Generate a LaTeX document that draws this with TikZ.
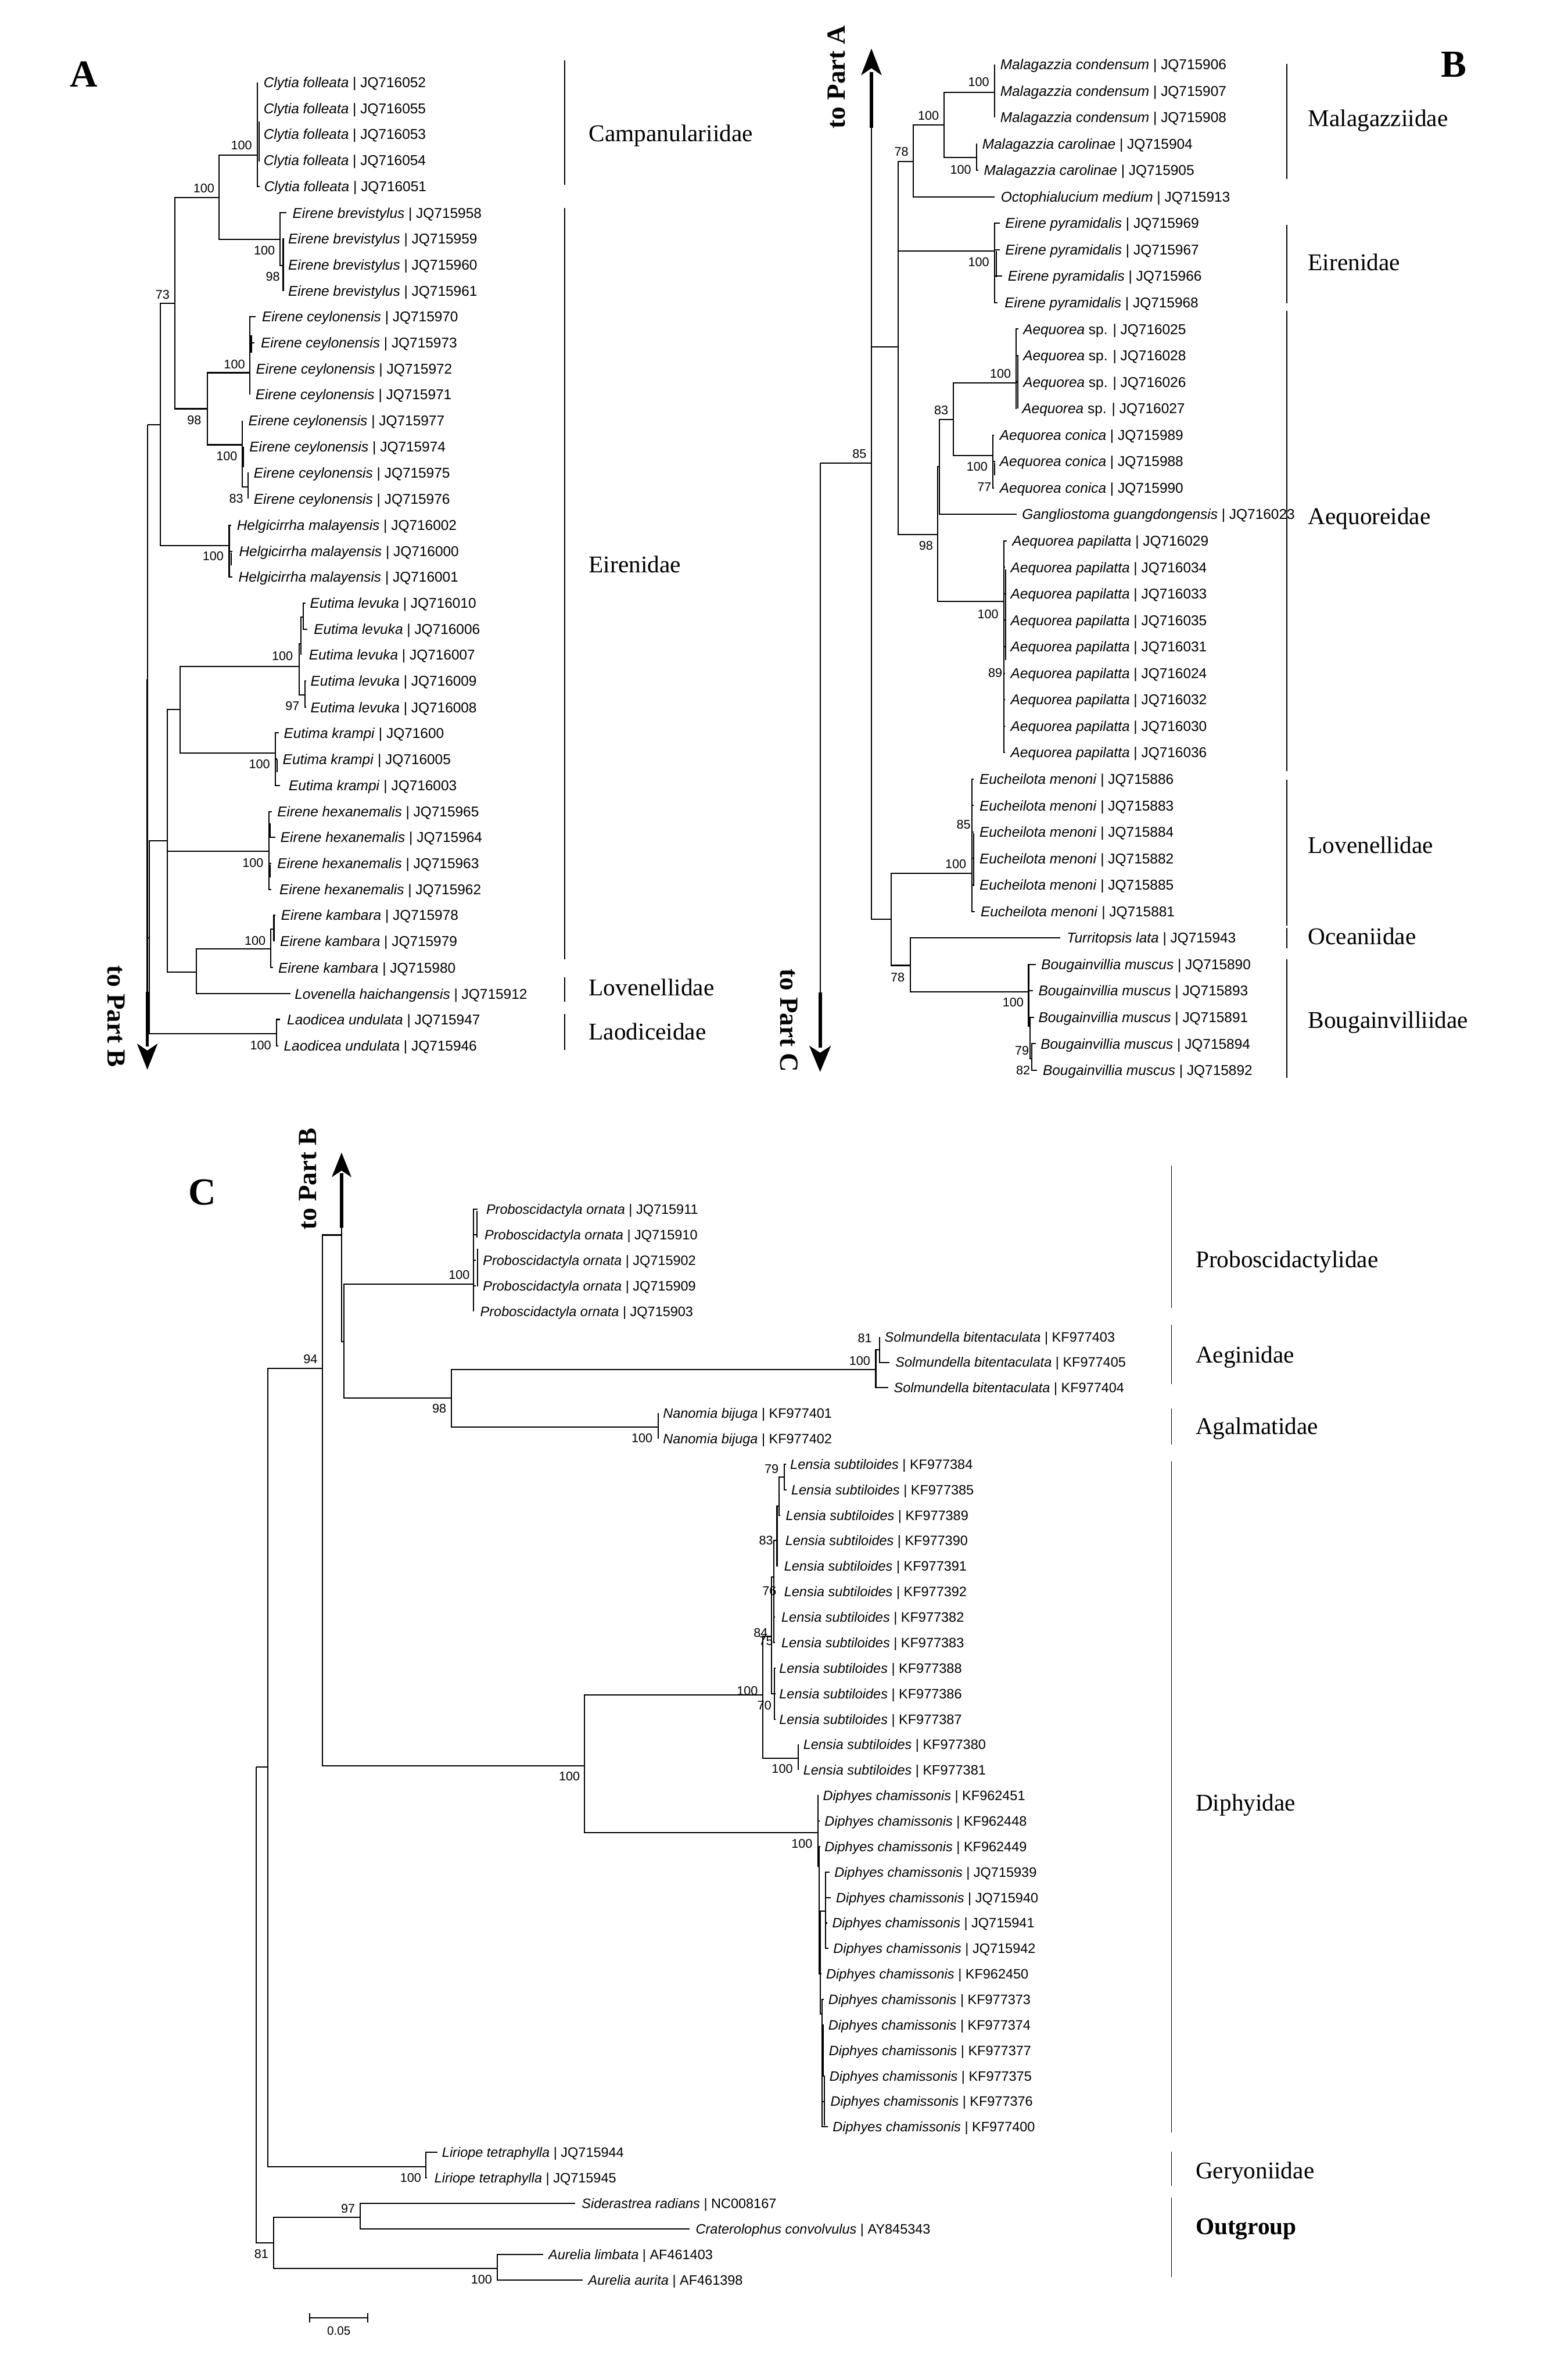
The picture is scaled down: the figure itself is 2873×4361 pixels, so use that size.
\documentclass[tikz,border=0pt]{standalone}
\usepackage{fontspec}
\setmainfont{Liberation Serif}
\newfontfamily\sansf{Liberation Sans}
\tikzset{
  br/.style={line width=2.2pt},
  lblA/.style={font=\sansf\fontsize{26}{26}\selectfont, inner sep=0pt, anchor=west, text height=18.6pt, text depth=0pt},
  lblC/.style={font=\sansf\fontsize{25}{25}\selectfont, inner sep=0pt, anchor=west, text height=17.9pt, text depth=0pt},
  bs/.style={font=\sansf\fontsize{23}{23}\selectfont, inner sep=0pt, anchor=east, text height=16.5pt, text depth=0pt},
  fam/.style={font=\fontsize{44}{44}\selectfont, inner sep=0pt, anchor=west, text height=29pt, text depth=0pt},
  famline/.style={line width=2pt},
  partlbl/.style={font=\bfseries\fontsize{48}{48}\selectfont, inner sep=0pt},
  panellbl/.style={font=\bfseries\fontsize{70}{70}\selectfont, inner sep=0pt},
  shaft/.style={line width=6pt},
  midshaft/.style={line width=3pt},
}
\newcommand\lf[8]{%
  \coordinate (#2t) at (#4,#5);
  \draw[br] (#3) |- (#2t);
  \node[#1] (#2) at (#6,#5) {\textit{#7} | #8};
}
\newcommand\bsv[4]{\node[bs] (#1) at (#2,#3) {#4};}
\newcommand\famlab[7]{%
  \coordinate (#1a) at (#2,#3);
  \coordinate (#1b) at (#2,#4);
  \draw[famline] (#1a) -- (#1b);
  \node[fam] (#1) at (#5,#6) {#7};
}
\newcommand\inner[4]{% name, x, y1, y2 : short nested-branch segment
  \coordinate (#1a) at (#2,#3);
  \coordinate (#1b) at (#2,#4);
  \draw[br] (#1a) -- (#1b);
}
\begin{document}
\begin{tikzpicture}[x=1pt,y=-1pt]
\useasboundingbox[fill=white] (0,0) rectangle (2873,4361);

% ================= PANEL A =================
\node[panellbl] (pA) at (154,136) {A};
\coordinate (aM) at (270,778);
\coordinate (aN294) at (294,778);
\coordinate (aN320) at (320,556);
\coordinate (aN401) at (401,362);
\coordinate (aCly) at (472,284);
\coordinate (aBrev) at (513,439);
\coordinate (aBrev2) at (519,487);
\coordinate (aCey) at (380,749);
\coordinate (aCey1) at (458,683);
\coordinate (aCey2) at (444,815);
\coordinate (aCey3) at (455,892);
\coordinate (aHel) at (420,1000);
\coordinate (aMl) at (270,1718);
\coordinate (aLow) at (274,1718);
\coordinate (aEKH) at (307,1541);
\coordinate (aEut) at (330,1300);
\coordinate (aLev) at (548,1221);
\coordinate (aLevA) at (552,1180);
\coordinate (aLevC) at (556,1131);
\coordinate (aLevB) at (559,1273);
\coordinate (aKra) at (505,1380);
\coordinate (aHex) at (493,1560);
\coordinate (aKL) at (360,1781);
\coordinate (aKam) at (496,1739);
\coordinate (aKam2) at (502,1702);
\coordinate (aLao) at (507,1894);

\draw[br] (aM) |- (aN294);
\draw[br] (aN294) |- (aN320);
\draw[br] (aN294) |- (aHel);
\draw[br] (aN320) |- (aN401);
\draw[br] (aN320) |- (aCey);
\draw[br] (aN401) |- (aCly);
\draw[br] (aN401) |- (aBrev);
\draw[br] (aBrev) |- (aBrev2);
\draw[br] (aCey) |- (aCey1);
\draw[br] (aCey) |- (aCey2);
\draw[br] (aCey2) |- (aCey3);
\draw[br] (aMl) -- (aLow);
\draw[br] (aLow) |- (aEKH);
\draw[br] (aLow) |- (aLao);
\draw[br] (aEKH) |- (aEut);
\draw[br] (aEKH) |- (aHex);
\draw[br] (aEKH) |- (aKL);
\draw[br] (aEut) |- (aLev);
\draw[br] (aEut) |- (aKra);
\draw[br] (aLev) |- (aLevA);
\draw[br] (aLev) |- (aLevB);
\draw[br] (aLevA) |- (aLevC);
\draw[br] (aKL) |- (aKam);
\draw[br] (aKam) |- (aKam2);
\inner{iA1}{474.5}{223}{296}
\inner{iA2}{460.5}{614}{646}
\inner{iA3}{446.5}{819}{856}
\inner{iA4}{424}{1012}{1036}
\inner{iA5}{507.5}{1392}{1415}
\inner{iA6}{495.5}{1509}{1535}
\inner{iA7}{495.5}{1584}{1608}

% arrow to part B
\coordinate (aA1) at (270,1245);
\coordinate (aA2) at (270,1817);
\coordinate (aA3) at (270,1918);
\draw[br] (aM) -- (aA1);
\draw[midshaft] (aA1) -- (aA2);
\draw[shaft] (aA2) -- (aA3);
\fill (270,1960) -- (251,1912) -- (270,1925) -- (289,1912) -- cycle;
\node[partlbl, rotate=-90] (aPart) at (213,1862) {to Part B};

\lf{lblA}{a0}{aCly}{472}{151}{483}{Clytia folleata}{JQ716052}
\lf{lblA}{a1}{aCly}{472}{199}{483}{Clytia folleata}{JQ716055}
\lf{lblA}{a2}{aCly}{472}{246}{483}{Clytia folleata}{JQ716053}
\lf{lblA}{a3}{aCly}{472}{294}{483}{Clytia folleata}{JQ716054}
\lf{lblA}{a4}{aCly}{476}{342}{484}{Clytia folleata}{JQ716051}
\lf{lblA}{a5}{aBrev}{525}{390}{536}{Eirene brevistylus}{JQ715958}
\lf{lblA}{a6}{aBrev2}{519}{437}{528}{Eirene brevistylus}{JQ715959}
\lf{lblA}{a7}{aBrev2}{519}{485}{528}{Eirene brevistylus}{JQ715960}
\lf{lblA}{a8}{aBrev2}{519}{533}{528}{Eirene brevistylus}{JQ715961}
\lf{lblA}{a9}{aCey1}{468}{580}{480}{Eirene ceylonensis}{JQ715970}
\lf{lblA}{a10}{aCey1}{466}{628}{478}{Eirene ceylonensis}{JQ715973}
\lf{lblA}{a11}{aCey1}{458}{676}{469}{Eirene ceylonensis}{JQ715972}
\lf{lblA}{a12}{aCey1}{458}{723}{468}{Eirene ceylonensis}{JQ715971}
\lf{lblA}{a13}{aCey2}{444}{771}{455}{Eirene ceylonensis}{JQ715977}
\lf{lblA}{a14}{aCey2}{444}{819}{457}{Eirene ceylonensis}{JQ715974}
\lf{lblA}{a15}{aCey3}{455}{866}{465}{Eirene ceylonensis}{JQ715975}
\lf{lblA}{a16}{aCey3}{455}{914}{465}{Eirene ceylonensis}{JQ715976}
\lf{lblA}{a17}{aHel}{424}{962}{434}{Helgicirrha malayensis}{JQ716002}
\lf{lblA}{a18}{aHel}{426}{1010}{438}{Helgicirrha malayensis}{JQ716000}
\lf{lblA}{a19}{aHel}{426}{1057}{437}{Helgicirrha malayensis}{JQ716001}
\lf{lblA}{a20}{aLevC}{560}{1105}{568}{Eutima levuka}{JQ716010}
\lf{lblA}{a21}{aLevC}{563}{1153}{575}{Eutima levuka}{JQ716006}
\lf{lblA}{a22}{aLevA}{552}{1200}{566}{Eutima levuka}{JQ716007}
\lf{lblA}{a23}{aLevB}{561}{1248}{569}{Eutima levuka}{JQ716009}
\lf{lblA}{a24}{aLevB}{561}{1296}{569}{Eutima levuka}{JQ716008}
\lf{lblA}{a25}{aKra}{511}{1343}{520}{Eutima krampi}{JQ71600}
\lf{lblA}{a26}{aKra}{508}{1391}{518}{Eutima krampi}{JQ716005}
\lf{lblA}{a27}{aKra}{513}{1439}{529}{Eutima krampi}{JQ716003}
\lf{lblA}{a28}{aHex}{498}{1487}{508}{Eirene hexanemalis}{JQ715965}
\lf{lblA}{a29}{aHex}{505}{1534}{514}{Eirene hexanemalis}{JQ715964}
\lf{lblA}{a30}{aHex}{497}{1582}{508}{Eirene hexanemalis}{JQ715963}
\lf{lblA}{a31}{aHex}{497}{1630}{512}{Eirene hexanemalis}{JQ715962}
\lf{lblA}{a32}{aKam2}{505}{1677}{515}{Eirene kambara}{JQ715978}
\lf{lblA}{a33}{aKam2}{502}{1725}{513}{Eirene kambara}{JQ715979}
\lf{lblA}{a34}{aKam}{500}{1773}{510}{Eirene kambara}{JQ715980}
\lf{lblA}{a35}{aKL}{532}{1821}{540}{Lovenella haichangensis}{JQ715912}
\lf{lblA}{a36}{aLao}{513}{1868}{526}{Laodicea undulata}{JQ715947}
\lf{lblA}{a37}{aLao}{510}{1916}{520}{Laodicea undulata}{JQ715946}

\bsv{ba1}{462}{266}{100}
\bsv{ba2}{393}{345}{100}
\bsv{ba3}{504}{459}{100}
\bsv{ba4}{513}{506}{98}
\bsv{ba5}{311}{539}{73}
\bsv{ba6}{449}{667}{100}
\bsv{ba7}{369}{769}{98}
\bsv{ba8}{435}{836}{100}
\bsv{ba9}{446}{913}{83}
\bsv{ba10}{410}{1019}{100}
\bsv{ba11}{537}{1202}{100}
\bsv{ba12}{549}{1293}{97}
\bsv{ba13}{495}{1400}{100}
\bsv{ba14}{483}{1581}{100}
\bsv{ba15}{487}{1723}{100}
\bsv{ba16}{497}{1915}{100}

\famlab{fA1}{1035}{111}{339}{1079}{245}{Campanulariidae}
\famlab{fA2}{1035}{381}{1758}{1079}{1035}{Eirenidae}
\famlab{fA3}{1035}{1791}{1835}{1079}{1810}{Lovenellidae}
\famlab{fA4}{1035}{1858}{1924}{1079}{1891}{Laodiceidae}

% ================= PANEL B =================
\node[panellbl] (pB) at (2664,118) {B};
\coordinate (b85) at (1503,849);
\coordinate (bX) at (1597,849);
\coordinate (b78a) at (1646,636);
\coordinate (b78) at (1674,296);
\coordinate (b100a) at (1730,229);
\coordinate (bCon) at (1823,169);
\coordinate (bCar) at (1790,289);
\coordinate (bPyr) at (1823,460);
\coordinate (b98) at (1718,980);
\coordinate (bI) at (1722,855);
\coordinate (b83) at (1747,769);
\coordinate (bSp) at (1862,702);
\coordinate (bCnc) at (1820,835);
\coordinate (bPap) at (1840,1102);
\coordinate (bEB) at (1633,1684);
\coordinate (bEuc) at (1781,1600);
\coordinate (b78b) at (1668,1769);
\coordinate (bBou) at (1885,1817);
\coordinate (bBou2) at (1888,1880);
\coordinate (bBou3) at (1891,1940);

\draw[br] (b85) -- (bX);
\draw[br] (bX) |- (b78a);
\draw[br] (bX) |- (bEB);
\draw[br] (b78a) |- (b78);
\draw[br] (b78a) |- (bPyr);
\draw[br] (b78a) |- (b98);
\draw[br] (b78) |- (b100a);
\draw[br] (b100a) |- (bCon);
\draw[br] (b100a) |- (bCar);
\draw[br] (b98) |- (bI);
\draw[br] (b98) |- (bPap);
\draw[br] (bI) |- (b83);
\draw[br] (b83) |- (bSp);
\draw[br] (b83) |- (bCnc);
\draw[br] (bEB) |- (bEuc);
\draw[br] (bEB) |- (b78b);
\draw[br] (b78b) |- (bBou);
\draw[br] (bBou) |- (bBou2);
\draw[br] (bBou2) |- (bBou3);
\inner{iB1}{1825.5}{460}{508}
\inner{iB2}{1865}{653}{749}
\inner{iB3}{1822.5}{847}{871}
\inner{iB4}{1843}{1043}{1210}
\inner{iB5}{1784}{1527}{1624}

% arrow to part A
\coordinate (bU0) at (1597,636);
\coordinate (bU1) at (1597,234);
\coordinate (bU2) at (1597,132);
\draw[midshaft] (bU0) -- (bU1);
\draw[shaft] (bU1) -- (bU2);
\fill (1597,89) -- (1578,138) -- (1597,125) -- (1616,138) -- cycle;
\node[partlbl, rotate=90] (bPartA) at (1533,141) {to Part A};
% arrow to part C
\coordinate (bD1) at (1503,1819);
\coordinate (bD2) at (1503,1920);
\draw[br] (b85) -- (bD1);
\draw[shaft] (bD1) -- (bD2);
\fill (1503,1964) -- (1483,1916) -- (1503,1929) -- (1523,1916) -- cycle;
\node[partlbl, rotate=-90] (bPartC) at (1446,1870) {to Part C};

\lf{lblA}{b0}{bCon}{1823}{118}{1833}{Malagazzia condensum}{JQ715906}
\lf{lblA}{b1}{bCon}{1823}{166.5}{1833}{Malagazzia condensum}{JQ715907}
\lf{lblA}{b2}{bCon}{1823}{215}{1833}{Malagazzia condensum}{JQ715908}
\lf{lblA}{b3}{bCar}{1790}{263.5}{1800}{Malagazzia carolinae}{JQ715904}
\lf{lblA}{b4}{bCar}{1793}{312}{1803}{Malagazzia carolinae}{JQ715905}
\lf{lblA}{b5}{b78}{1823}{360.5}{1834}{Octophialucium medium}{JQ715913}
\lf{lblA}{b6}{bPyr}{1832}{409}{1842}{Eirene pyramidalis}{JQ715969}
\lf{lblA}{b7}{bPyr}{1832}{457.5}{1842}{Eirene pyramidalis}{JQ715967}
\lf{lblA}{b8}{bPyr}{1837}{506}{1847}{Eirene pyramidalis}{JQ715966}
\lf{lblA}{b9}{bPyr}{1828}{554.5}{1841}{Eirene pyramidalis}{JQ715968}
\lf{lblA}{b10}{bSp}{1866}{603}{1875}{Aequorea \upshape sp.}{JQ716025}
\lf{lblA}{b11}{bSp}{1866}{651.5}{1875}{Aequorea \upshape sp.}{JQ716028}
\lf{lblA}{b12}{bSp}{1866}{700}{1875}{Aequorea \upshape sp.}{JQ716026}
\lf{lblA}{b13}{bSp}{1863}{748.5}{1873}{Aequorea \upshape sp.}{JQ716027}
\lf{lblA}{b14}{bCnc}{1822}{797}{1832}{Aequorea conica}{JQ715989}
\lf{lblA}{b15}{bCnc}{1824}{845.5}{1832}{Aequorea conica}{JQ715988}
\lf{lblA}{b16}{bCnc}{1822}{894}{1832}{Aequorea conica}{JQ715990}
\lf{lblA}{b17}{bI}{1863}{942.5}{1873}{Gangliostoma guangdongensis}{JQ716023}
\lf{lblA}{b18}{bPap}{1845}{991}{1855}{Aequorea papilatta}{JQ716029}
\lf{lblA}{b19}{bPap}{1842}{1039.5}{1852}{Aequorea papilatta}{JQ716034}
\lf{lblA}{b20}{bPap}{1842}{1088}{1852}{Aequorea papilatta}{JQ716033}
\lf{lblA}{b21}{bPap}{1842}{1136.5}{1852}{Aequorea papilatta}{JQ716035}
\lf{lblA}{b22}{bPap}{1842}{1185}{1852}{Aequorea papilatta}{JQ716031}
\lf{lblA}{b23}{bPap}{1842}{1233.5}{1852}{Aequorea papilatta}{JQ716024}
\lf{lblA}{b24}{bPap}{1842}{1282}{1852}{Aequorea papilatta}{JQ716032}
\lf{lblA}{b25}{bPap}{1842}{1330.5}{1852}{Aequorea papilatta}{JQ716030}
\lf{lblA}{b26}{bPap}{1842}{1379}{1852}{Aequorea papilatta}{JQ716036}
\lf{lblA}{b27}{bEuc}{1784}{1427.5}{1795}{Eucheilota menoni}{JQ715886}
\lf{lblA}{b28}{bEuc}{1784}{1476}{1795}{Eucheilota menoni}{JQ715883}
\lf{lblA}{b29}{bEuc}{1784}{1524.5}{1795}{Eucheilota menoni}{JQ715884}
\lf{lblA}{b30}{bEuc}{1784}{1573}{1795}{Eucheilota menoni}{JQ715882}
\lf{lblA}{b31}{bEuc}{1784}{1621.5}{1795}{Eucheilota menoni}{JQ715885}
\lf{lblA}{b32}{bEuc}{1787}{1670}{1797}{Eucheilota menoni}{JQ715881}
\lf{lblA}{b33}{b78b}{1943}{1718.5}{1955}{Turritopsis lata}{JQ715943}
\lf{lblA}{b34}{bBou}{1898}{1767}{1908}{Bougainvillia muscus}{JQ715890}
\lf{lblA}{b35}{bBou}{1893}{1815.5}{1903}{Bougainvillia muscus}{JQ715893}
\lf{lblA}{b36}{bBou2}{1895}{1864}{1903}{Bougainvillia muscus}{JQ715891}
\lf{lblA}{b37}{bBou3}{1898}{1912.5}{1907}{Bougainvillia muscus}{JQ715894}
\lf{lblA}{b38}{bBou3}{1900}{1961}{1911}{Bougainvillia muscus}{JQ715892}

\bsv{bb1}{1813}{150}{100}
\bsv{bb2}{1721}{212}{100}
\bsv{bb3}{1665}{278}{78}
\bsv{bb4}{1780}{311}{100}
\bsv{bb5}{1813}{480}{100}
\bsv{bb6}{1853}{684}{100}
\bsv{bb7}{1738}{751}{83}
\bsv{bb8}{1588}{831}{85}
\bsv{bb9}{1810}{855}{100}
\bsv{bb10}{1817}{892}{77}
\bsv{bb11}{1710}{1000}{98}
\bsv{bb12}{1830}{1125}{100}
\bsv{bb13}{1837}{1233}{89}
\bsv{bb14}{1779}{1510}{85}
\bsv{bb15}{1771}{1583}{100}
\bsv{bb16}{1658}{1790}{78}
\bsv{bb17}{1876}{1836}{100}
\bsv{bb18}{1886}{1925}{79}
\bsv{bb19}{1888}{1961}{82}

\famlab{fB1}{2358}{117}{328}{2397}{217}{Malagazziidae}
\famlab{fB2}{2358}{412}{556}{2397}{481}{Eirenidae}
\famlab{fB3}{2358}{570}{1413}{2397}{946}{Aequoreidae}
\famlab{fB4}{2358}{1429}{1696}{2397}{1549}{Lovenellidae}
\famlab{fB5}{2358}{1700}{1738}{2397}{1716}{Oceaniidae}
\famlab{fB6}{2358}{1758}{1975}{2397}{1869}{Bougainvilliidae}

% ================= PANEL C =================
\node[panellbl] (pC) at (371,2185) {C};
\coordinate (c81) at (470,3238);
\coordinate (cC1) at (491,3238);
\coordinate (cOut) at (501,4110);
\coordinate (c94) at (591,2507);
\coordinate (cLir) at (780,3970);
\coordinate (cX1) at (626,2263);
\coordinate (cDip) at (1071,3236);
\coordinate (cX2) at (630,2458);
\coordinate (cPro) at (868,2353);
\coordinate (c98) at (827,2562);
\coordinate (cSol) at (1605,2509);
\coordinate (cSol2) at (1612,2473);
\coordinate (cNan) at (1206,2615);
\coordinate (cL) at (1398,3106);
\coordinate (cD) at (1499,3358);
\coordinate (cL84) at (1414,2998);
\coordinate (cL380) at (1463,3222);
\coordinate (cL76) at (1418,2890);
\coordinate (cL70) at (1419,3104);
\coordinate (cL83) at (1424,2822);
\coordinate (cL2) at (1428,2760);
\coordinate (cL79) at (1437,2706);
\coordinate (cD2) at (1501,3420);
\coordinate (cD3) at (1503,3560);
\coordinate (cD4) at (1513,3502);
\coordinate (cD5) at (1507,3690);
\coordinate (c97) at (660,4063);
\coordinate (cAur) at (911,4157);

\draw[br] (c81) -- (cC1);
\draw[br] (c81) |- (cOut);
\draw[br] (cC1) |- (c94);
\draw[br] (cC1) |- (cLir);
\draw[br] (c94) |- (cX1);
\draw[br] (c94) |- (cDip);
\draw[br] (cX1) |- (cX2);
\draw[br] (cX2) |- (cPro);
\draw[br] (cX2) |- (c98);
\draw[br] (c98) |- (cSol);
\draw[br] (c98) |- (cNan);
\draw[br] (cSol) |- (cSol2);
\draw[br] (cDip) |- (cL);
\draw[br] (cDip) |- (cD);
\draw[br] (cL) |- (cL84);
\draw[br] (cL) |- (cL380);
\draw[br] (cL84) |- (cL76);
\draw[br] (cL84) |- (cL70);
\draw[br] (cL76) |- (cL83);
\draw[br] (cL83) |- (cL2);
\draw[br] (cL2) |- (cL79);
\draw[br] (cD) |- (cD2);
\draw[br] (cD2) |- (cD3);
\draw[br] (cD3) |- (cD4);
\draw[br] (cD3) |- (cD5);
\draw[br] (cOut) |- (c97);
\draw[br] (cOut) |- (cAur);
\inner{iC1}{874}{2219}{2268}
\inner{iC2}{875}{2288}{2357}
\inner{iC3}{1509}{3712}{3803}
\inner{iC4}{1511}{3803}{3895}

% arrow to part B
\coordinate (cU1) at (626,2250);
\coordinate (cU2) at (626,2150);
\draw[br] (cX1) -- (cU1);
\draw[shaft] (cU1) -- (cU2);
\fill (626,2112) -- (608,2157) -- (626,2145) -- (644,2157) -- cycle;
\node[partlbl, rotate=90] (cPart) at (564,2160) {to Part B};

\lf{lblC}{c0}{cPro}{875}{2216}{891}{Proboscidactyla ornata}{JQ715911}
\lf{lblC}{c1}{cPro}{874}{2262.7}{888}{Proboscidactyla ornata}{JQ715910}
\lf{lblC}{c2}{cPro}{872}{2309.4}{885}{Proboscidactyla ornata}{JQ715902}
\lf{lblC}{c3}{cPro}{872}{2356.1}{885}{Proboscidactyla ornata}{JQ715909}
\lf{lblC}{c4}{cPro}{868}{2402.8}{880}{Proboscidactyla ornata}{JQ715903}
\lf{lblC}{c5}{cSol2}{1612}{2449.5}{1621}{Solmundella bitentaculata}{KF977403}
\lf{lblC}{c6}{cSol2}{1630}{2496.2}{1641}{Solmundella bitentaculata}{KF977405}
\lf{lblC}{c7}{cSol}{1628}{2542.9}{1638}{Solmundella bitentaculata}{KF977404}
\lf{lblC}{c8}{cNan}{1206}{2589.6}{1215}{Nanomia bijuga}{KF977401}
\lf{lblC}{c9}{cNan}{1206}{2636.3}{1215}{Nanomia bijuga}{KF977402}
\lf{lblC}{c10}{cL79}{1440}{2683}{1448}{Lensia subtiloides}{KF977384}
\lf{lblC}{c11}{cL79}{1442}{2729.7}{1450}{Lensia subtiloides}{KF977385}
\lf{lblC}{c12}{cL2}{1430}{2776.4}{1440}{Lensia subtiloides}{KF977389}
\lf{lblC}{c13}{cL83}{1426}{2823.1}{1439}{Lensia subtiloides}{KF977390}
\lf{lblC}{c14}{cL83}{1426}{2869.8}{1437}{Lensia subtiloides}{KF977391}
\lf{lblC}{c15}{cL76}{1420}{2916.5}{1437}{Lensia subtiloides}{KF977392}
\lf{lblC}{c16}{cL76}{1420}{2963.2}{1432}{Lensia subtiloides}{KF977382}
\lf{lblC}{c17}{cL76}{1420}{3009.9}{1432}{Lensia subtiloides}{KF977383}
\lf{lblC}{c18}{cL70}{1421}{3056.6}{1428}{Lensia subtiloides}{KF977388}
\lf{lblC}{c19}{cL70}{1421}{3103.3}{1428}{Lensia subtiloides}{KF977386}
\lf{lblC}{c20}{cL70}{1421}{3150}{1428}{Lensia subtiloides}{KF977387}
\lf{lblC}{c21}{cL380}{1463}{3196.7}{1472}{Lensia subtiloides}{KF977380}
\lf{lblC}{c22}{cL380}{1463}{3243.4}{1472}{Lensia subtiloides}{KF977381}
\lf{lblC}{c23}{cD}{1500}{3290.1}{1508}{Diphyes chamissonis}{KF962451}
\lf{lblC}{c24}{cD}{1502}{3336.8}{1511}{Diphyes chamissonis}{KF962448}
\lf{lblC}{c25}{cD2}{1503}{3383.5}{1511}{Diphyes chamissonis}{KF962449}
\lf{lblC}{c26}{cD4}{1520}{3430.2}{1529}{Diphyes chamissonis}{JQ715939}
\lf{lblC}{c27}{cD4}{1522}{3476.9}{1532}{Diphyes chamissonis}{JQ715940}
\lf{lblC}{c28}{cD4}{1516}{3523.6}{1525}{Diphyes chamissonis}{JQ715941}
\lf{lblC}{c29}{cD4}{1518}{3570.3}{1527}{Diphyes chamissonis}{JQ715942}
\lf{lblC}{c30}{cD2}{1505}{3617}{1514}{Diphyes chamissonis}{KF962450}
\lf{lblC}{c31}{cD5}{1510}{3663.7}{1518}{Diphyes chamissonis}{KF977373}
\lf{lblC}{c32}{cD5}{1510}{3710.4}{1518}{Diphyes chamissonis}{KF977374}
\lf{lblC}{c33}{cD5}{1510}{3757.1}{1519}{Diphyes chamissonis}{KF977377}
\lf{lblC}{c34}{cD5}{1510}{3803.8}{1520}{Diphyes chamissonis}{KF977375}
\lf{lblC}{c35}{cD5}{1512}{3850.5}{1522}{Diphyes chamissonis}{KF977376}
\lf{lblC}{c36}{cD5}{1517}{3897.2}{1526}{Diphyes chamissonis}{KF977400}
\lf{lblC}{c37}{cLir}{802}{3943.9}{810}{Liriope tetraphylla}{JQ715944}
\lf{lblC}{c38}{cLir}{783}{3990.6}{796}{Liriope tetraphylla}{JQ715945}
\lf{lblC}{c39}{c97}{1054}{4037.3}{1066}{Siderastrea radians}{NC008167}
\lf{lblC}{c40}{c97}{1264}{4084}{1275}{Craterolophus convolvulus}{AY845343}
\lf{lblC}{c41}{cAur}{996}{4130.7}{1005}{Aurelia limbata}{AF461403}
\lf{lblC}{c42}{cAur}{1068}{4177.4}{1078}{Aurelia aurita}{AF461398}

\bsv{bc1}{582}{2490}{94}
\bsv{bc2}{861}{2336}{100}
\bsv{bc3}{818}{2580}{98}
\bsv{bc4}{1598}{2452}{81}
\bsv{bc5}{1595}{2493}{100}
\bsv{bc6}{1196}{2635}{100}
\bsv{bc7}{1427}{2691}{79}
\bsv{bc8}{1417}{2822}{83}
\bsv{bc9}{1423}{2915}{76}
\bsv{bc10}{1407}{2992}{84}
\bsv{bc11}{1417}{3006}{75}
\bsv{bc12}{1414}{3125}{70}
\bsv{bc13}{1389}{3098}{100}
\bsv{bc14}{1453}{3241}{100}
\bsv{bc15}{1063}{3255}{100}
\bsv{bc16}{1489}{3378}{100}
\bsv{bc17}{772}{3990}{100}
\bsv{bc18}{651}{4047}{97}
\bsv{bc19}{492}{4130}{81}
\bsv{bc20}{902}{4177}{100}

\famlab{fC1}{2147}{2136}{2397}{2191}{2308}{Proboscidactylidae}
\famlab{fC2}{2147}{2428}{2536}{2191}{2483}{Aeginidae}
\famlab{fC3}{2147}{2581}{2647}{2191}{2614}{Agalmatidae}
\famlab{fC4}{2147}{2678}{3907}{2191}{3304}{Diphyidae}
\famlab{fC5}{2147}{3943}{4005}{2191}{3977}{Geryoniidae}
\famlab{fC6}{2147}{4027}{4172}{2191}{4080}{\bfseries Outgroup}

% scale bar
\coordinate (sb1) at (567,4247);
\coordinate (sb2) at (674,4247);
\draw[br] (sb1) -- (sb2);
\draw[br] (567,4238) -- (567,4256);
\draw[br] (674,4238) -- (674,4256);
\node[font=\sansf\fontsize{22}{22}\selectfont, inner sep=0pt, text height=15.8pt, text depth=0pt] (sbl) at (621,4270) {0.05};
\end{tikzpicture}
\end{document}
